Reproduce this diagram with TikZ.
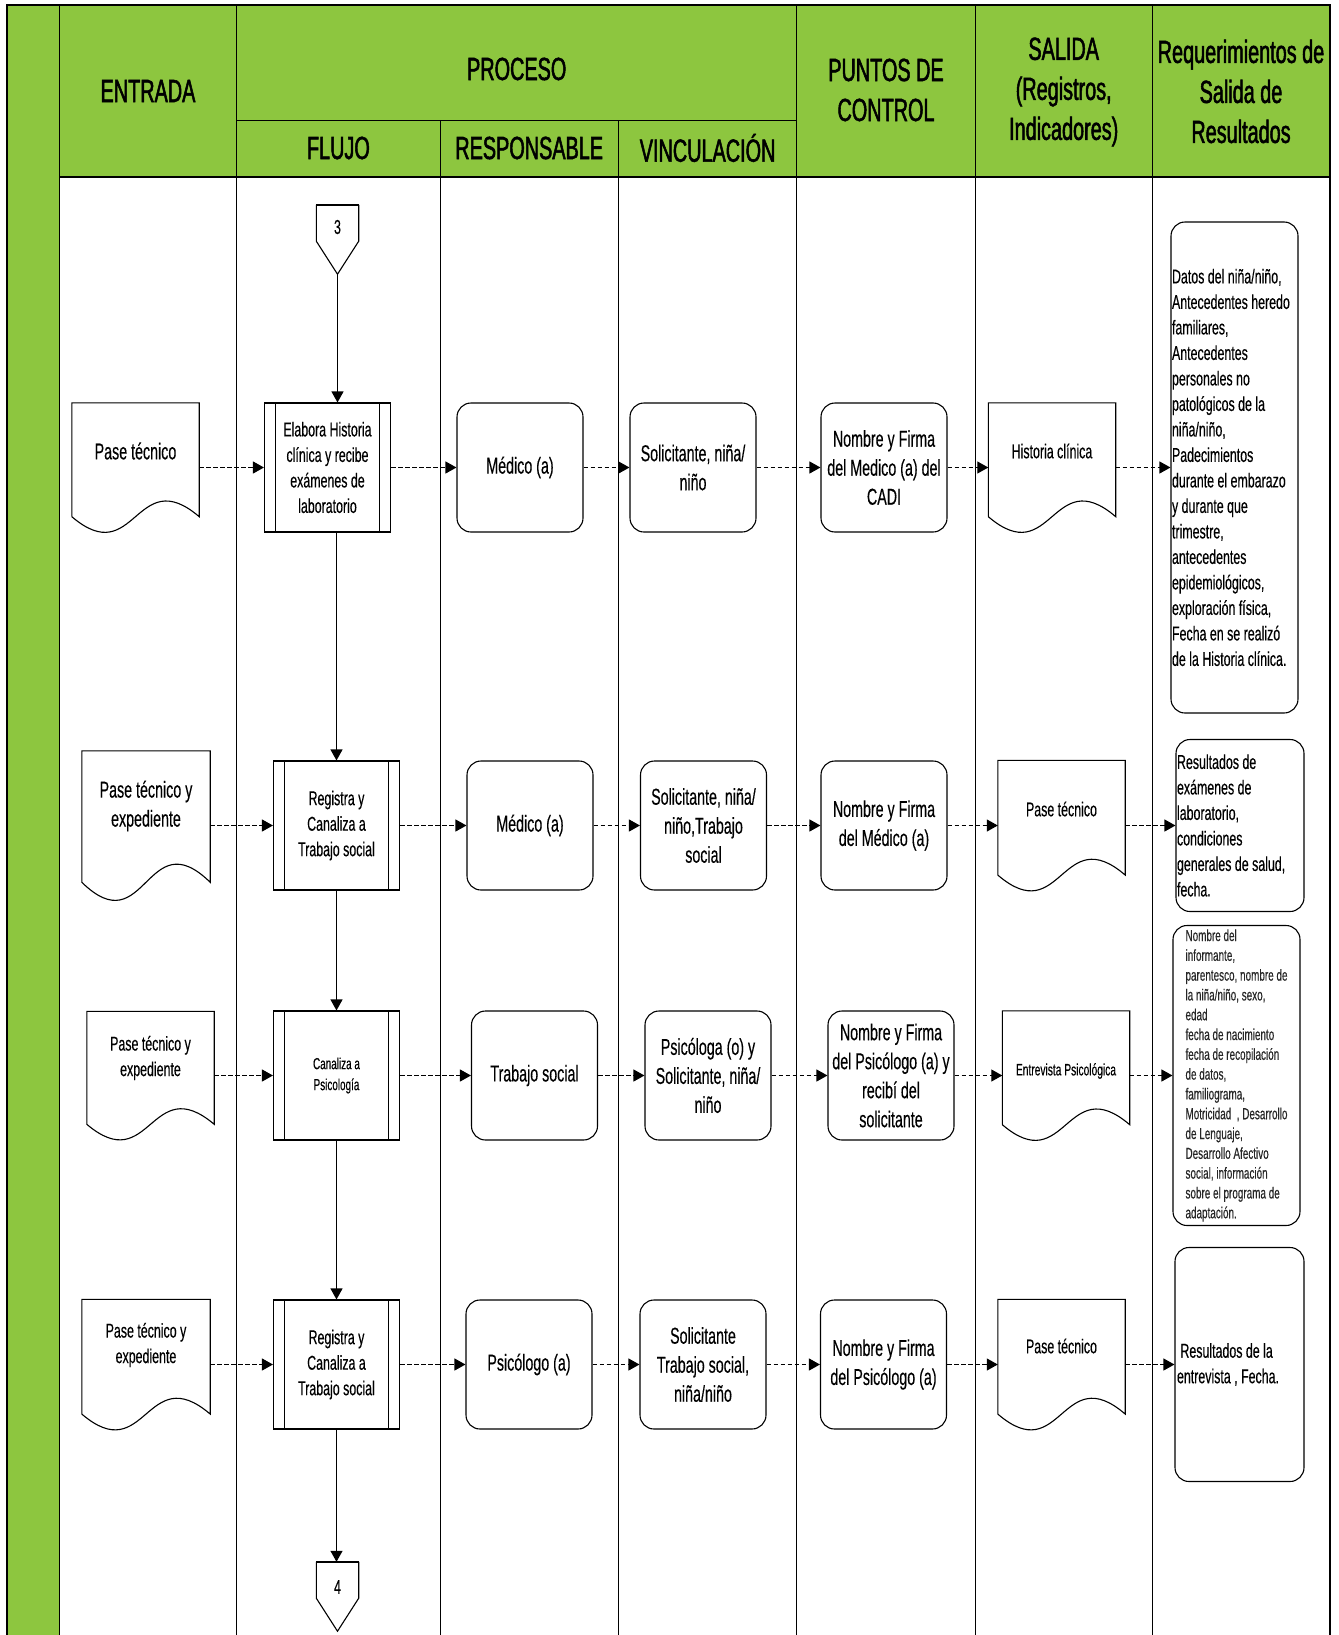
\documentclass[tikz,border=0pt]{standalone}
\usepackage{fontspec}
\setmainfont{Liberation Sans}[FakeStretch=0.62, UprightFeatures={FakeBold=0.3}]
\newfontfamily\hdrfont{Liberation Sans}[FakeStretch=0.62, UprightFeatures={FakeBold=1.6}]
\usetikzlibrary{arrows.meta,calc}
\definecolor{lanegreen}{RGB}{141,198,63}

% wavy-bottom outline of a document node
\newcommand\docwave[1]{%
  \draw[line width=1.1pt]
    ($(#1.north west)!0.88!(#1.south west)$) -- (#1.north west) -- (#1.north east)
    -- ($(#1.north east)!0.88!(#1.south east)$)
    .. controls ($(#1.north)!0.46!(#1.south)$) and ($(#1.north)!1.3!(#1.south)$) ..
    ($(#1.north west)!0.88!(#1.south west)$);}
% side bars of a predefined-process box
\newcommand\procbars[1]{%
  \draw[line width=1pt] ([xshift=12pt]#1.north west) -- ([xshift=12pt]#1.south west);
  \draw[line width=1pt] ([xshift=-12pt]#1.north east) -- ([xshift=-12pt]#1.south east);}
% off-page connector pointing down
\newcommand\offpage[1]{%
  \coordinate (#1tip) at ($(#1.south)+(0,33)$);
  \draw[line width=1.1pt] (#1.north east) -- (#1.south east) -- (#1tip) -- (#1.south west) -- (#1.north west);
  \draw[line width=2pt] (#1.north west) -- (#1.north east);}

\begin{document}
\begin{tikzpicture}[x=1pt,y=-1pt,
  box/.style={draw, line width=1.1pt, minimum width=126pt, minimum height=129pt, inner sep=2pt, align=center},
  proc/.style={box, rectangle},
  rbox/.style={box, rounded corners=14pt},
  docbox/.style={rectangle, minimum width=127pt, minimum height=129pt, inner sep=0pt},
  req/.style={draw, line width=1.1pt, rounded corners=14pt, align=flush left, inner ysep=2pt},
  conn/.style={rectangle, minimum width=42pt, minimum height=36pt, inner sep=0pt},
  fbig/.style={font=\fontsize{23}{29}\selectfont},
  fmid/.style={font=\fontsize{20}{25.5}\selectfont},
  fsmall/.style={font=\fontsize{16}{21}\selectfont},
  freq/.style={font=\fontsize{16}{19.8}\selectfont, text=black!85},
  hdr/.style={font=\hdrfont\fontsize{32}{40}\selectfont, align=center},
  flow/.style={line width=1.1pt, -{Triangle[length=11pt,width=12pt]}},
  link/.style={flow, dash pattern=on 4.5pt off 2.5pt},
  lane/.style={line width=1pt},
]
\useasboundingbox (0,0) rectangle (1338,1635);

% ---------- table background and lanes ----------
\fill[lanegreen] (7,5) rectangle (1330,177);
\fill[lanegreen] (7,177) rectangle (59.4,1635);
\foreach \x in {59.4,236.7,796.8,975.1,1152.4}{\draw[lane] (\x,5) -- (\x,1635);}
\foreach \x in {440.1,618.4}{\draw[lane] (\x,121) -- (\x,1635);}
\draw[lane] (236.7,121) -- (796.8,121);
\draw[line width=1.4pt] (59.4,177) -- (1330,177);
\draw[line width=2pt] (7,1635) -- (7,5) -- (1330,5) -- (1330,1635);

% ---------- headers ----------
\node[hdr] (hEntrada) at (148,91) {ENTRADA};
\node[hdr] (hProceso) at (516.7,69) {PROCESO};
\node[hdr] (hFlujo) at (338.4,148) {FLUJO};
\node[hdr] (hResp) at (529.2,148) {RESPONSABLE};
\node[hdr] (hVinc) at (707.6,148) {VINCULACIÓN};
\node[hdr] (hCtrl) at (886,90) {PUNTOS DE\\CONTROL};
\node[hdr] (hSal) at (1063.7,92) {SALIDA\\(Registros,\\Indicadores)};
\node[hdr] (hReq) at (1241,91.5) {Requerimientos de\\Salida de\\Resultados};

% ---------- connector 3 ----------
\node[conn, label={[name=k3t, fmid, yshift=-4pt]center:3}] (k3) at (337.5,223) {};
\offpage{k3}

% ---------- row 1 ----------
\node[docbox, label={[name=e1t, fbig, align=center, yshift=16.5pt]center:Pase técnico}] (e1) at (135.5,467.5) {};
\docwave{e1}
\node[proc, fmid] (p1) at (327.5,467.5) {Elabora Historia\\clínica y recibe\\exámenes de\\laboratorio};
\procbars{p1}
\node[rbox, fbig] (r1) at (520,467.5) {Médico (a)};
\node[rbox, fbig] (v1) at (693,467.5) {Solicitante, niña/\\niño};
\node[rbox, fbig] (c1) at (884,467.5) {Nombre y Firma\\del Medico (a) del\\CADI};
\node[docbox, label={[name=s1t, fmid, align=center, yshift=16.5pt]center:Historia clínica}] (s1) at (1052,467.5) {};
\docwave{s1}
\node[req, fmid, text width=125pt, inner xsep=1pt, minimum height=491pt] (q1) at (1234.5,467.5)
  {Datos del niña/niño,\\Antecedentes heredo\\familiares,\\Antecedentes\\personales no\\patológicos de la\\niña/niño,\\Padecimientos\\durante el embarazo\\y durante que\\trimestre,\\antecedentes\\epidemiológicos,\\exploración física,\\Fecha en se realizó\\de la Historia clínica.};

% ---------- row 2 ----------
\node[docbox, minimum width=128pt, minimum height=149pt, label={[name=e2t, fbig, align=center, yshift=19.5pt]center:Pase técnico y\\expediente}] (e2) at (146,825.5) {};
\docwave{e2}
\node[proc, fmid] (p2) at (336.5,825.5) {Registra y\\Canaliza a\\Trabajo social};
\procbars{p2}
\node[rbox, fbig] (r2) at (530,825.5) {Médico (a)};
\node[rbox, fbig] (v2) at (703.5,825.5) {Solicitante, niña/\\niño,Trabajo\\social};
\node[rbox, fbig] (c2) at (884,825.5) {Nombre y Firma\\del Médico (a)};
\node[docbox, minimum height=130pt, label={[name=s2t, fmid, align=center, yshift=16.5pt]center:Pase técnico}] (s2) at (1061.5,825.5) {};
\docwave{s2}
\node[req, fmid, text width=126pt, inner xsep=1pt, minimum height=172pt] (q2) at (1240,825.5)
  {Resultados de\\exámenes de\\laboratorio,\\condiciones\\generales de salud,\\fecha.};

% ---------- row 3 ----------
\node[docbox, minimum height=128pt, label={[name=e3t, fmid, align=center, yshift=17.5pt]center:Pase técnico y\\expediente}] (e3) at (150.5,1075.5) {};
\docwave{e3}
\node[proc, fsmall] (p3) at (336.5,1075.5) {Canaliza a\\Psicología};
\procbars{p3}
\node[rbox, fbig] (r3) at (534.5,1075.5) {Trabajo social};
\node[rbox, fbig] (v3) at (708,1075.5) {Psicóloga (o) y\\Solicitante, niña/\\niño};
\node[rbox, fbig, inner sep=1pt] (c3) at (891,1075.5) {Nombre y Firma\\del Psicólogo (a) y\\recibí del\\solicitante};
\node[docbox, label={[name=s3t, font=\fontsize{16.5}{21}\selectfont, align=center, yshift=4.5pt]center:Entrevista Psicológica}] (s3) at (1066,1075.5) {};
\docwave{s3}
\node[req, freq, minimum width=127pt, minimum height=300pt] (q3) at (1236.5,1075.5)
  {Nombre del\\informante,\\parentesco, nombre de\\la niña/niño, sexo,\\edad\\fecha de nacimiento\\fecha de recopilación\\de datos,\\familiograma,\\Motricidad\ \ , Desarrollo\\de Lenguaje,\\Desarrollo Afectivo\\social, información\\sobre el programa de\\adaptación.};

% ---------- row 4 ----------
\node[docbox, minimum width=128pt, minimum height=130pt, label={[name=e4t, fmid, align=center, yshift=19.5pt]center:Pase técnico y\\expediente}] (e4) at (146,1364.5) {};
\docwave{e4}
\node[proc, fmid] (p4) at (336.5,1364.5) {Registra y\\Canaliza a\\Trabajo social};
\procbars{p4}
\node[rbox, fbig] (r4) at (529,1364.5) {Psicólogo (a)};
\node[rbox, fbig] (v4) at (703,1364.5) {Solicitante\\Trabajo social,\\niña/niño};
\node[rbox, fbig] (c4) at (883.5,1364.5) {Nombre y Firma\\del Psicólogo (a)};
\node[docbox, minimum height=130pt, label={[name=s4t, fmid, align=center, yshift=18.5pt]center:Pase técnico}] (s4) at (1061.5,1364.5) {};
\docwave{s4}
\node[req, fmid, text width=125pt, inner xsep=2pt, minimum height=234pt] (q4) at (1239.5,1364.5)
  {\ Resultados de la\\entrevista , Fecha.};

% ---------- connector 4 ----------
\node[conn, label={[name=k4t, fmid, yshift=-7pt]center:4}] (k4) at (337.5,1580) {};
\offpage{k4}

% ---------- main flow ----------
\draw[flow] (k3tip) -- (k3tip |- p1.north);
\draw[flow] (p1.south -| p2.north) -- (p2.north);
\draw[flow] (p2.south) -- (p3.north);
\draw[flow] (p3.south) -- (p4.north);
\draw[flow] (p4.south) -- (p4.south |- k4.north);

% ---------- dashed links along each row ----------
\foreach \a/\b in {e1/p1,p1/r1,r1/v1,v1/c1,c1/s1,s1/q1,
                   e2/p2,p2/r2,r2/v2,v2/c2,c2/s2,s2/q2,
                   e3/p3,p3/r3,r3/v3,v3/c3,c3/s3,s3/q3,
                   e4/p4,p4/r4,r4/v4,v4/c4,c4/s4,s4/q4}
  {\draw[link] (\a.east) -- (\a.east -| \b.west);}
\end{tikzpicture}
\end{document}
